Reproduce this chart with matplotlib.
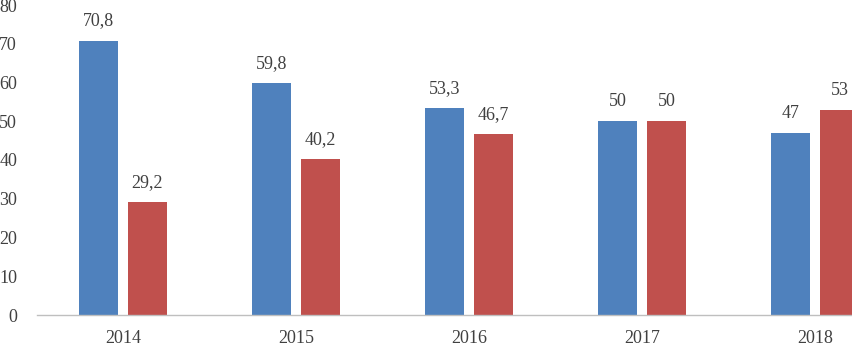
import matplotlib
matplotlib.use("Agg")
import matplotlib.pyplot as plt
import numpy as np

years = ["2014", "2015", "2016", "2017", "2018"]
series_a = [70.8, 59.8, 53.3, 50, 47]
series_b = [29.2, 40.2, 46.7, 50, 53]
labels_a = ["70,8", "59,8", "53,3", "50", "47"]
labels_b = ["29,2", "40,2", "46,7", "50", "53"]
yticks = [0, 10, 20, 30, 40, 50, 60, 70, 80]

plt.rcParams['font.family'] = ['Liberation Serif', 'DejaVu Serif']
text_color = "#404040"

fig = plt.figure(figsize=(8.52, 3.51), dpi=100)
ax = fig.add_axes([36.5/852, 1-315/351, 865/852, 310/351])

x = np.arange(len(years))
w = 0.224
off = 0.141
ba = ax.bar(x - off, series_a, w, color="#4F81BD")
bb = ax.bar(x + off, series_b, w, color="#C0504D")
for rects, labs in ((ba, labels_a), (bb, labels_b)):
    for r, l in zip(rects, labs):
        ax.annotate(l, (r.get_x() + r.get_width()/2, r.get_height()),
                    xytext=(0, 8), textcoords="offset points",
                    ha="center", va="bottom", fontsize=13, color=text_color)

ax.set_xlim(-0.5, 4.5)
ax.set_ylim(0, 80)
ax.set_yticks(yticks)
ax.set_yticklabels([str(t) for t in yticks])
ax.set_xticks(x)
ax.set_xticklabels(years)
for s in ("top", "right", "left"):
    ax.spines[s].set_visible(False)
ax.spines["bottom"].set_color("#BFBFBF")
ax.spines["bottom"].set_linewidth(1.0)
ax.tick_params(axis="both", length=0, labelsize=13, colors=text_color)
ax.tick_params(axis="y", pad=14)
ax.tick_params(axis="x", pad=11)

fig.savefig("out.png", dpi=100)
